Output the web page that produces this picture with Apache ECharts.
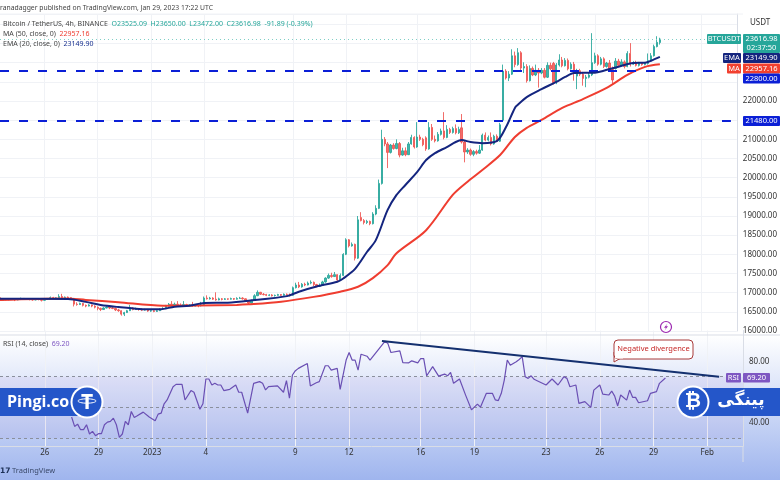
<!DOCTYPE html>
<html>
<head>
<meta charset="utf-8">
<style>
html, body { margin: 0; padding: 0; width: 780px; height: 480px; overflow: hidden;
  background: linear-gradient(to bottom, #ffffff 0, #ffffff 335px, #9fb5ee 480px); }
#main { width: 780px; height: 480px; }
</style>
<script src="https://cdn.jsdelivr.net/npm/echarts@6/dist/echarts.min.js"></script>
</head>
<body>
<div id="main"></div>
<script>
// 4h candles, one slot per 4 hours, Dec 23 to Feb 3
var slotCount = 250;
var xTickIdx = [15, 33, 51, 69, 99, 117, 141, 159, 183, 201, 219, 237];
var xTickLabels = ['26', '29', '2023', '4', '9', '12', '16', '19', '23', '26', '29', 'Feb'];

var priceTicks = [16000, 16500, 17000, 17500, 18000, 18500, 19000, 19500, 20000, 20500, 21000, 22000];
var rsiTicks = [40, 80];
var rsiLevels = [70, 50, 30];
var supportLevels = [22800, 21480];
var lastPrice = 23616.98;

// open, close, low, high
var candles = [
  [16870,16800,16780,16960],[16800,16830,16790,16845],[16830,16815,16800,16850],[16815,16835,16800,16850],[16835,16825,16810,16845],
  [16825,16810,16780,16840],[16810,16835,16800,16850],[16835,16850,16825,16870],[16850,16830,16815,16860],[16830,16845,16820,16860],
  [16845,16825,16800,16855],[16825,16810,16790,16840],[16810,16830,16800,16845],[16830,16820,16800,16840],[16820,16800,16770,16830],
  [16800,16825,16790,16840],[16825,16840,16815,16860],[16840,16870,16830,16900],[16870,16850,16835,16890],[16850,16865,16840,16880],
  [16865,16900,16855,16960],[16900,16870,16860,16970],[16870,16885,16855,16900],[16885,16870,16850,16900],[16870,16850,16835,16880],
  [16850,16700,16640,16860],[16700,16690,16660,16750],[16690,16720,16680,16740],[16720,16670,16640,16730],[16670,16650,16620,16690],
  [16650,16680,16640,16700],[16680,16650,16620,16690],[16650,16620,16590,16670],[16620,16590,16540,16640],[16590,16560,16520,16610],
  [16560,16600,16550,16620],[16600,16620,16590,16650],[16620,16600,16570,16640],[16600,16590,16570,16620],[16590,16550,16520,16610],
  [16550,16530,16500,16580],[16530,16440,16400,16540],[16440,16480,16390,16500],[16480,16530,16470,16550],[16530,16600,16520,16680],
  [16600,16560,16540,16620],[16560,16580,16550,16610],[16580,16560,16530,16600],[16560,16545,16520,16590],[16545,16560,16530,16580],
  [16560,16520,16500,16575],[16520,16530,16500,16560],[16530,16510,16490,16550],[16510,16530,16500,16560],[16530,16570,16520,16590],
  [16570,16590,16560,16620],[16590,16650,16580,16680],[16650,16700,16640,16730],[16700,16680,16660,16780],[16680,16700,16670,16740],
  [16700,16680,16660,16780],[16680,16670,16650,16720],[16670,16690,16660,16780],[16690,16660,16640,16710],[16660,16680,16650,16700],
  [16680,16650,16630,16760],[16650,16670,16640,16700],[16670,16660,16620,16690],[16660,16670,16640,16760],[16670,16860,16660,16900],
  [16860,16840,16820,16930],[16840,16860,16820,16890],[16860,16830,16810,16880],[16830,16810,16790,17010],[16810,16840,16800,16870],
  [16840,16825,16800,16860],[16825,16840,16810,16860],[16840,16830,16810,16850],[16830,16845,16820,16870],[16845,16830,16810,16860],
  [16830,16850,16820,16880],[16850,16860,16840,16890],[16860,16840,16820,16880],[16840,16780,16760,16850],[16780,16730,16700,16800],
  [16730,16800,16720,16820],[16800,16920,16790,16960],[16920,17010,16910,17060],[17010,16960,16940,17020],[16960,16950,16930,16990],
  [16950,16930,16910,16970],[16930,16940,16910,16960],[16940,16920,16900,16960],[16920,16930,16900,16950],[16930,16950,16920,16970],
  [16950,16930,16910,16965],[16930,16960,16920,16980],[16960,16950,16920,16980],[16950,16930,16900,16980],[16930,17130,16920,17160],
  [17130,17200,17110,17260],[17200,17150,17120,17280],[17150,17220,17130,17250],[17220,17200,17170,17260],[17200,17250,17190,17290],
  [17250,17270,17220,17320],[17270,17210,17170,17290],[17210,17170,17140,17230],[17170,17190,17150,17240],[17190,17280,17180,17310],
  [17280,17380,17260,17400],[17380,17450,17360,17500],[17450,17420,17390,17520],[17420,17470,17410,17540],[17470,17330,17290,17480],
  [17330,17450,17320,17500],[17450,18000,17430,18030],[18000,18380,17980,18420],[18380,18220,18180,18400],[18220,18260,18200,18310],
  [18260,17900,17840,18280],[17900,18900,17880,19000],[18960,18880,18860,19100],[18880,18830,18780,18920],[18830,18860,18790,18900],
  [18860,18800,18760,18880],[18800,19050,18780,19100],[19050,19200,19020,19280],[19200,19850,19180,19950],[19850,21000,19820,21250],
  [21000,20880,20820,21060],[20880,20660,20250,20930],[20660,20850,20630,20880],[20850,20760,20730,20900],[20760,20890,20740,21000],
  [20890,20590,20530,20930],[20590,20700,20570,20780],[20700,20600,20560,20790],[20600,20880,20590,20930],[20880,21050,20860,21120],
  [21050,20800,20760,21080],[20800,21060,20780,21450],[21060,21000,20960,21120],[21000,20860,20820,21040],[21040,20750,20700,21080],
  [20750,21310,20730,21450],[21310,21000,20960,21400],[21000,20960,20920,21100],[20960,21130,20940,21190],[21130,21220,21100,21280],
  [21220,21050,21000,21710],[21050,21260,21030,21370],[21260,21180,21140,21300],[21180,21280,21150,21330],[21280,21170,21130,21390],
  [21170,21260,21140,21330],[21300,20930,20890,21660],[20930,20670,20400,20960],[20670,20720,20620,20770],[20720,20610,20570,20760],
  [20610,20680,20560,20720],[20680,20640,20600,20730],[20640,20720,20620,20850],[20720,21110,20700,21150],[21110,20980,20950,21180],
  [20980,21050,20950,21100],[21050,20880,20840,21180],[20880,21080,20860,21120],[21080,20950,20930,21130],[20950,21380,20930,21430],
  [21500,22780,21480,22950],[22780,22600,22560,22830],[22600,22700,22520,22780],[22700,23180,22680,23350],[23180,22950,22880,23290],
  [22950,23260,22920,23380],[23260,22860,22780,23300],[22860,22900,22730,23010],[22900,22530,22480,22960],[22530,22850,22510,22930],
  [22850,22680,22650,22900],[22680,22800,22650,22950],[22800,22730,22350,22860],[22730,22800,22700,22860],[22800,22620,22590,22860],
  [22620,22930,22600,23010],[22930,22840,22800,23000],[22980,22480,22430,23020],[22480,22940,22440,22990],[22940,23070,22900,23220],
  [23070,22920,22880,23150],[22920,23060,22900,23120],[23060,22840,22800,23110],[22840,22960,22820,23010],[22960,22800,22530,23020],
  [22650,22790,22310,22840],[22790,22700,22650,22840],[22700,22590,22400,22760],[22590,22620,22360,22680],[22620,22680,22590,22740],
  [22680,23000,22650,23770],[23000,23180,22970,23260],[23180,22960,22920,23220],[22960,23100,22930,23150],[23100,22900,22860,23140],
  [22900,22990,22870,23020],[22990,22820,22780,23070],[22820,22550,22450,22900],[22850,23040,22820,23120],[23040,22930,22900,23100],
  [22930,23020,22900,23090],[23020,22900,22850,23060],[22900,23240,22880,23300],[23240,22960,22900,23510],[22960,22990,22940,23040],
  [22990,22930,22900,23050],[22930,22980,22900,23020],[22980,22950,22920,23010],[22950,22980,22930,23020],[22980,23050,22950,23240],
  [23050,23180,23030,23250],[23180,23420,23160,23470],[23420,23530,23400,23690],[23525.09,23616.98,23472,23650]
];

// slot, value read at the bends of each line
var emaPoints = [[0,16840],[23,16835],[29,16760],[34,16680],[40,16625],[47,16575],[54,16565],[59,16635],[64,16660],[69,16730],
  [77,16740],[84,16790],[97,16910],[101,17025],[107,17160],[114,17285],[116,17370],[120,17620],[124,18060],[127,18370],[131,19160],
  [134,19550],[137,19810],[141,20150],[144,20460],[147,20640],[151,20800],[154,20930],[156,20980],[159,20930],[163,20900],[168,20960],
  [171,21320],[174,21820],[175,21900],[178,22100],[183,22310],[188,22500],[191,22630],[194,22730],[201,22740],[204,22790],[209,22895],
  [214,22990],[218,23000],[220,23050],[223,23149.9]];
var maPoints = [[0,16810],[22,16850],[29,16810],[40,16750],[55,16660],[67,16665],[80,16680],[84,16695],[95,16765],[106,16890],
  [115,17025],[121,17155],[126,17380],[131,17720],[134,18030],[144,18630],[153,19550],[158,19895],[163,20200],[169,20590],[174,21060],
  [178,21300],[183,21505],[190,21820],[197,22050],[205,22340],[212,22680],[218,22890],[223,22957.16]];
var rsiPoints = [[24,43.8],[25,37.7],[26,39.2],[27,35.6],[28,35.6],[29,38.8],[30,32.8],[31,34.5],[32,31.7],[33,33],[34,33],[35,38.8],
  [36,40.5],[37,41],[38,43.1],[39,38.8],[40,30.6],[41,32.8],[42,41],[43,38.8],[44,47.4],[45,43.5],[46,44.6],[48,47],[50,43.8],[52,41.4],
  [53,45.7],[54,46.3],[55,52.4],[56,54.9],[58,63.5],[59,65],[61,65],[62,54.9],[64,61],[65,59.9],[67,48.9],[68,52.4],[69,68.5],[70,68.5],
  [71,64.6],[72,65.7],[73,64.6],[74,64.6],[75,61],[77,61.8],[79,64.6],[80,59.9],[81,59.9],[83,46.3],[85,65.7],[87,66.8],[88,65.7],[89,61.4],
  [90,63.5],[93,64],[95,59.9],[96,67.4],[97,56],[98,71.1],[99,73.9],[100,75.4],[103,78.6],[104,64],[106,66.1],[107,66.8],[109,77.1],[110,77.1],
  [111,74.3],[113,75.4],[114,61.8],[116,80.8],[117,85.7],[118,80.8],[119,80.8],[120,74.3],[121,84.6],[123,83.3],[124,80.8],[126,85.7],[129,93],
  [130,91.5],[131,85.7],[134,86.8],[135,79.2],[137,79],[138,80.3],[140,79],[141,81.8],[142,81.8],[143,70.6],[145,76.5],[147,70.4],[149,71.7],
  [150,70.6],[151,72.8],[152,65.7],[154,68.5],[156,58.2],[158,48.5],[160,52.2],[161,50.2],[163,59.2],[165,59.2],[166,54.9],[167,54.5],[168,59.2],
  [169,67.8],[170,80.8],[171,77.5],[173,79.7],[174,81.2],[175,83],[176,70],[177,68.9],[178,70.6],[179,68.3],[180,67.4],[183,64.6],[185,68.5],
  [187,64.6],[189,70],[190,68.9],[191,63.5],[193,64.6],[194,52.7],[196,53.8],[198,50.1],[199,61.3],[201,64.6],[202,58.7],[204,58.1],[205,60.7],
  [206,57.4],[207,51],[208,58.1],[210,54.8],[211,61.3],[212,56.6],[213,56.6],[214,53.1],[217,54.4],[218,59.2],[220,60.3],[221,65.7],[223,69.2]];
var divergenceLine = [[128,93.2],[241,70]];

var categories = [];
for (var i = 0; i < slotCount; i++) {
  var t = xTickIdx.indexOf(i);
  categories.push(t >= 0 ? xTickLabels[t] : '');
}
var isTick = function (idx) { return xTickIdx.indexOf(idx) >= 0; };

var UI_FONT = '"Noto Sans", sans-serif';
var AXIS_GREY = '#d9dde6';
var GRID_GREY = '#f0f2f6';

function tagRect(x, y, w, h, bg) {
  return { type: 'rect', shape: { x: x, y: y, width: w, height: h, r: 1 }, style: { fill: bg }, z: 20 };
}
function tagText(x, y, text) {
  return { type: 'text', x: x, y: y, z: 21, style: { text: text, fill: '#fff', font: '7.5px ' + UI_FONT, align: 'center', verticalAlign: 'middle' } };
}
function label(x, y, text, color, size) {
  return { type: 'text', x: x, y: y, z: 15, style: { text: text, fill: color || '#333', font: (size || 7) + 'px ' + UI_FONT, verticalAlign: 'middle' } };
}

var graphics = [
  { type: 'line', shape: { x1: 0, y1: 335, x2: 780, y2: 335 }, style: { stroke: AXIS_GREY, lineWidth: 1 }, z: 1 },
  { type: 'line', shape: { x1: 0, y1: 14, x2: 743, y2: 14 }, style: { stroke: GRID_GREY, lineWidth: 1 }, z: 1 },
  { type: 'line', shape: { x1: 743, y1: 446, x2: 743, y2: 462 }, style: { stroke: AXIS_GREY, lineWidth: 1 }, z: 1 },

  label(0, 8, 'ranadagger published on TradingView.com, Jan 29, 2023 17:22 UTC', '#444', 6.8),
  { type: 'text', x: 3, y: 24, z: 15, style: {
    text: 'Bitcoin / TetherUS, 4h, BINANCE  {g|O23525.09}  {g|H23650.00}  {g|L23472.00}  {g|C23616.98}  {g|-91.89 (-0.39%)}',
    fill: '#444', font: '7px ' + UI_FONT, verticalAlign: 'middle',
    rich: { g: { fill: '#26a69a', font: '7px ' + UI_FONT } } } },
  { type: 'text', x: 3, y: 34, z: 15, style: {
    text: 'MA (50, close, 0)  {r|22957.16}', fill: '#444', font: '7px ' + UI_FONT, verticalAlign: 'middle',
    rich: { r: { fill: '#ef3d30', font: '7px ' + UI_FONT } } } },
  { type: 'text', x: 3, y: 44, z: 15, style: {
    text: 'EMA (20, close, 0)  {b|23149.90}', fill: '#444', font: '7px ' + UI_FONT, verticalAlign: 'middle',
    rich: { b: { fill: '#17308f', font: '7px ' + UI_FONT } } } },
  { type: 'text', x: 3, y: 344, z: 15, style: {
    text: 'RSI (14, close)  {p|69.20}', fill: '#444', font: '7px ' + UI_FONT, verticalAlign: 'middle',
    rich: { p: { fill: '#7e57c2', font: '7px ' + UI_FONT } } } },
  label(750, 23, 'USDT', '#333', 8),

  // price badges
  tagRect(707, 34, 34, 10, '#26a69a'), tagText(724, 39, 'BTCUSDT'),
  tagRect(743, 34, 37, 19, '#26a69a'), tagText(761.5, 39, '23616.98'), tagText(761.5, 48, '02:37:50'),
  tagRect(723, 53, 18, 10, '#14257f'), tagText(732, 58, 'EMA'),
  tagRect(743, 53, 37, 10, '#14257f'), tagText(761.5, 58, '23149.90'),
  tagRect(727, 63.5, 14, 10, '#f2402f'), tagText(734, 68.5, 'MA'),
  tagRect(743, 63.5, 37, 10, '#f2402f'), tagText(761.5, 68.5, '22957.16'),
  tagRect(743, 73.5, 37, 10, '#0b1fd6'), tagText(761.5, 78.5, '22800.00'),
  tagRect(743, 116, 37, 10, '#0b1fd6'), tagText(761.5, 121, '21480.00'),
  tagRect(726, 373, 15, 9.5, '#7e57c2'), tagText(733.5, 378, 'RSI'),
  tagRect(743, 373, 27, 9.5, '#7e57c2'), tagText(756.5, 378, '69.20'),

  // event marker
  { type: 'circle', shape: { cx: 666, cy: 327, r: 5.5 }, style: { fill: '#fff', stroke: '#9c27b0', lineWidth: 1.2 }, z: 15 },
  { type: 'polygon', shape: { points: [[667.5, 323.5], [664, 327.8], [666, 327.8], [664.6, 330.5], [668, 326.2], [666, 326.2]] }, style: { fill: '#9c27b0' }, z: 16 },

  // callout
  { type: 'polygon', shape: { points: [[614, 352], [614, 362], [621, 358]] }, style: { fill: '#fff', stroke: '#a83a3a', lineWidth: 1 }, z: 16 },
  { type: 'rect', shape: { x: 614, y: 340, width: 79, height: 19, r: 4 }, style: { fill: '#fff', stroke: '#a83a3a', lineWidth: 1 }, z: 17 },
  { type: 'rect', shape: { x: 615, y: 355, width: 8, height: 3.5 }, style: { fill: '#fff' }, z: 18 },
  { type: 'text', x: 653.5, y: 349, z: 18, style: { text: 'Negative divergence', fill: '#c62828', font: '7.5px ' + UI_FONT, align: 'center', verticalAlign: 'middle' } },

  // left banner
  { type: 'rect', shape: { x: -5, y: 388, width: 85, height: 28 }, style: { fill: '#2456c9' }, z: 30 },
  { type: 'circle', shape: { cx: 87, cy: 402, r: 16.5 }, style: { fill: '#ffffff' }, z: 31 },
  { type: 'circle', shape: { cx: 87, cy: 402, r: 14.5 }, style: { fill: '#2456c9' }, z: 32 },
  { type: 'text', x: 7, y: 402, z: 33, style: { text: 'Pingi.co', fill: '#fff', font: 'bold 16px "Open Sans", sans-serif', verticalAlign: 'middle' } },
  { type: 'text', x: 87, y: 403, z: 33, style: { text: 'T', fill: '#fff', font: 'bold 21px "Open Sans", sans-serif', align: 'center', verticalAlign: 'middle' } },
  { type: 'ellipse', shape: { cx: 87, cy: 401, rx: 9, ry: 2.2 }, style: { fill: 'none', stroke: '#fff', lineWidth: 1 }, z: 33 },

  // right banner
  { type: 'rect', shape: { x: 700, y: 388, width: 85, height: 28 }, style: { fill: '#2456c9' }, z: 30 },
  { type: 'circle', shape: { cx: 693, cy: 402, r: 16.5 }, style: { fill: '#ffffff' }, z: 31 },
  { type: 'circle', shape: { cx: 693, cy: 402, r: 14.5 }, style: { fill: '#2456c9' }, z: 32 },
  { type: 'text', x: 693, y: 402, z: 33, style: { text: '\u20BF', fill: '#fff', font: 'bold 20px "DejaVu Sans", sans-serif', align: 'center', verticalAlign: 'middle' } },
  { type: 'text', x: 741, y: 401, z: 33, style: { text: '\u067E\u06CC\u0646\u06AF\u06CC', fill: '#fff', font: 'bold 17px "DejaVu Sans", sans-serif', align: 'center', verticalAlign: 'middle' } },

  // footer logo
  { type: 'text', x: 0, y: 471, z: 15, style: { text: '17', fill: '#1c2f55', font: 'bold 7.5px "DejaVu Sans", sans-serif', verticalAlign: 'middle' } },
  { type: 'text', x: 12, y: 471, z: 15, style: { text: 'TradingView', fill: '#3b4a6b', font: '7.5px ' + UI_FONT, verticalAlign: 'middle' } }
];

var chart = echarts.init(document.getElementById('main'), null, { renderer: 'canvas' });

var option = {
  backgroundColor: 'transparent',
  animation: false,
  textStyle: { fontFamily: UI_FONT },
  grid: [
    { left: 0, width: 743, top: 14, height: 317 },
    { left: 0, width: 743, top: 330.5, height: 115.5 }
  ],
  xAxis: [
    {
      type: 'category', gridIndex: 0, data: categories, boundaryGap: false,
      axisLine: { show: false }, axisTick: { show: false }, axisLabel: { show: false },
      splitLine: { show: true, interval: function (idx) { return isTick(idx); }, lineStyle: { color: GRID_GREY, width: 1 } }
    },
    {
      type: 'category', gridIndex: 1, data: categories, boundaryGap: false,
      axisLine: { show: true, lineStyle: { color: AXIS_GREY } }, axisTick: { show: false },
      axisLabel: { show: true, interval: function (idx) { return isTick(idx); }, color: '#333', fontSize: 8, margin: 3, hideOverlap: false },
      splitLine: { show: true, interval: function (idx) { return isTick(idx); }, lineStyle: { color: GRID_GREY, width: 1 } }
    }
  ],
  yAxis: [
    {
      type: 'value', gridIndex: 0, position: 'right', min: 16000, max: 24270, interval: 500,
      axisLine: { show: true, lineStyle: { color: AXIS_GREY } }, axisTick: { show: false },
      axisLabel: {
        color: '#333', fontSize: 8, margin: 6, showMinLabel: true, showMaxLabel: false,
        formatter: function (v) { return priceTicks.indexOf(v) >= 0 ? v.toFixed(2) : ''; }
      },
      splitLine: { show: true, lineStyle: { color: GRID_GREY, width: 1 } }
    },
    {
      type: 'value', gridIndex: 1, position: 'right', min: 25, max: 100, interval: 5,
      axisLine: { show: true, lineStyle: { color: AXIS_GREY } }, axisTick: { show: false },
      axisLabel: {
        color: '#333', fontSize: 8, margin: 6,
        formatter: function (v) { return rsiTicks.indexOf(v) >= 0 ? v.toFixed(2) : ''; }
      },
      splitLine: { show: false }
    }
  ],
  series: [
    {
      name: 'BTCUSDT', type: 'candlestick', xAxisIndex: 0, yAxisIndex: 0, data: candles, barWidth: 1.8, z: 3,
      itemStyle: { color: '#26a69a', color0: '#ef5350', borderColor: '#26a69a', borderColor0: '#ef5350', borderWidth: 1, opacity: 0.85 },
      markLine: {
        silent: true, symbol: 'none', label: { show: false }, animation: false,
        lineStyle: { color: '#7fcfc6', type: [1, 3], width: 1, opacity: 1 },
        data: [
          [{ coord: [0, lastPrice] }, { coord: [249, lastPrice] }],
          [{ coord: [0, supportLevels[0]], lineStyle: { color: '#0b1fd6', type: [9, 10], width: 2 } }, { coord: [241, supportLevels[0]] }],
          [{ coord: [0, supportLevels[1]], lineStyle: { color: '#0b1fd6', type: [9, 10], width: 2 } }, { coord: [247, supportLevels[1]] }]
        ]
      }
    },
    {
      name: 'MA', type: 'line', xAxisIndex: 0, yAxisIndex: 0, data: maPoints, showSymbol: false, z: 4,
      smooth: 0.3, lineStyle: { color: '#ef3d30', width: 2 }
    },
    {
      name: 'EMA', type: 'line', xAxisIndex: 0, yAxisIndex: 0, data: emaPoints, showSymbol: false, z: 5,
      smooth: 0.3, lineStyle: { color: '#14257f', width: 2 }
    },
    {
      name: 'RSI', type: 'line', xAxisIndex: 1, yAxisIndex: 1, data: rsiPoints, showSymbol: false, z: 5,
      lineStyle: { color: '#6a4fb3', width: 1.2 },
      markLine: {
        silent: true, symbol: 'none', label: { show: false }, animation: false,
        lineStyle: { color: '#8a8f9c', type: [3, 3], width: 1 },
        data: rsiLevels.map(function (v) { return { yAxis: v }; })
      },
      markArea: {
        silent: true,
        itemStyle: { color: 'rgba(126,87,194,0.07)' },
        data: [[{ yAxis: rsiLevels[0] }, { yAxis: rsiLevels[2] }]]
      }
    },
    {
      name: 'Divergence', type: 'line', xAxisIndex: 1, yAxisIndex: 1, data: divergenceLine, showSymbol: false, z: 6,
      lineStyle: { color: '#14306f', width: 2 }
    }
  ],
  graphic: graphics
};

chart.setOption(option);
</script>
</body>
</html>
